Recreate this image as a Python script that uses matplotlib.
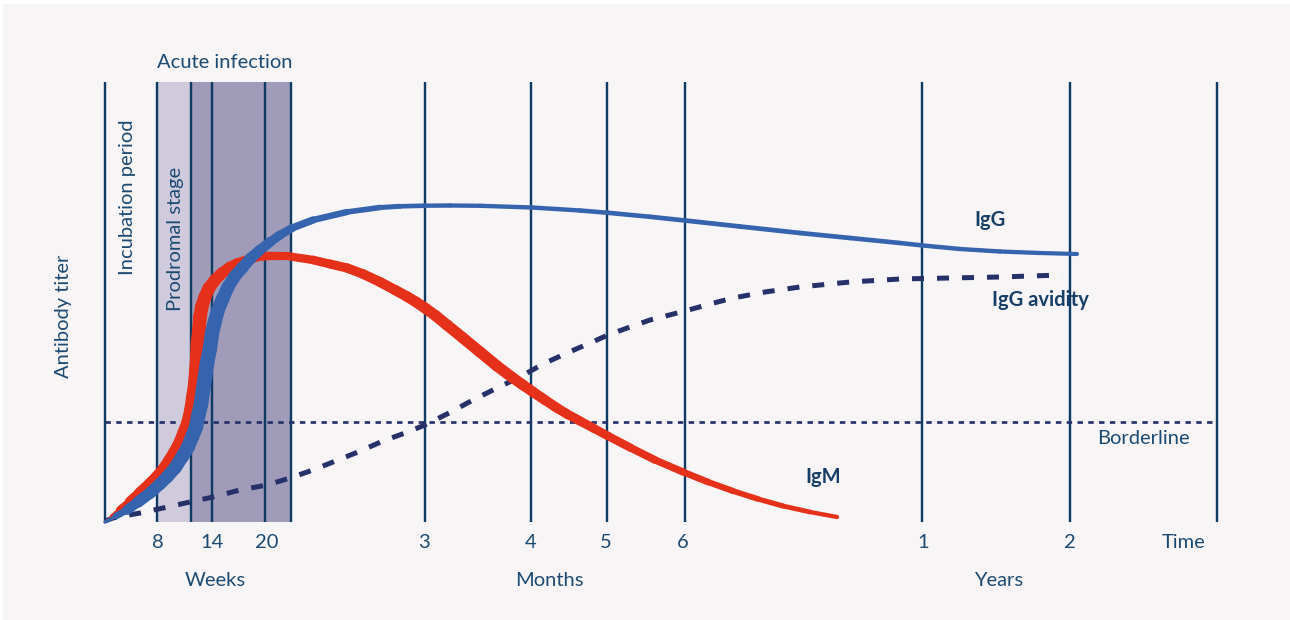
import numpy as np
import matplotlib
matplotlib.use('Agg')
import matplotlib.pyplot as plt
from matplotlib.collections import LineCollection
from matplotlib.patches import Rectangle


# schematic time axis (horizontal position) and titer axis (y grows downward)
grid_x = [105, 157, 191, 212, 265, 291, 425, 531, 607, 685, 922, 1070, 1217]
tick_x = [158, 212, 267, 424, 531, 606, 683, 923, 1070, 1184]
tick_labels = ['8', '14', '20', '3', '4', '5', '6', '1', '2', 'Time']
unit_x = [215, 549, 999]
unit_labels = ['Weeks', 'Months', 'Years']

prodromal_span = (157, 191)
acute_span = (191, 291)
borderline_y = 422

igg_x = [105, 116, 127, 138, 150, 160, 167, 175, 182, 188, 192, 196, 198, 201, 203,
         205, 207, 210, 212, 215, 218, 223, 228, 235, 243, 251, 260, 270, 280, 292,
         313, 347, 380, 400, 425, 450, 480, 532, 580, 608, 650, 685, 740, 800, 850,
         900, 923, 960, 1000, 1040, 1077]
igg_y = [522, 516, 510, 502, 493, 484, 477, 468, 457, 447, 437, 427, 417, 404, 390,
         377, 363, 348, 333, 321, 310, 298, 287, 276, 267, 258, 250, 242, 235, 228,
         220, 212, 207.5, 206.3, 205.7, 205.5, 205.8, 207.5, 210.5, 212.8, 216.8, 220.5,
         226.5, 233, 238, 243, 245.5, 249, 251.5, 253, 254]

igm_x = [105, 112, 120, 130, 140, 150, 157, 164, 170, 175, 180, 184, 188, 191, 193,
         195, 196, 197, 197.5, 199, 200, 202, 205, 209, 215, 222, 230, 238, 247, 257,
         267, 277, 287, 300, 313, 330, 347, 363, 380, 395, 407, 416, 425, 436, 447,
         463, 480, 497, 513, 523, 533, 545, 557, 567, 580, 594, 608, 630, 655, 683,
         708, 733, 758, 783, 810, 837]
igm_y = [522, 517, 510, 502, 493, 484, 477, 469, 460, 452, 443, 433, 423, 410, 397,
         383, 370, 356, 343, 330, 317, 306, 297, 288, 280, 273, 267, 263, 260, 257,
         256, 256, 256, 258, 260, 264, 268, 274, 282, 290, 296.5, 302, 308, 316, 325,
         338, 352, 366, 378, 385, 392, 400, 408, 414, 421, 428.5, 436, 447.5, 460, 472,
         482, 491, 499, 506, 512, 517]

avid_x = [105, 113, 140, 163, 190, 213, 240, 267, 290, 313, 333, 358, 383, 405, 425,
          447, 473, 497, 520, 543, 567, 590, 608, 630, 650, 685, 710, 733, 765, 800,
          850, 900, 950, 1000, 1030, 1062]
avid_y = [521, 518, 513, 508, 502, 497, 490, 485, 478, 470, 462, 452, 441, 433, 425,
          414, 400, 388, 377, 364, 353, 343, 335, 327, 320, 311, 304, 298, 292, 287,
          282, 279, 278, 277, 276, 275]

BG = '#f7f5f6'
NAVY = '#0e3b63'
TXT = '#1d4a72'
LABEL = '#173e66'
RED = '#e5301a'
BLUE = '#3563ae'
DASH = '#263069'
PX = 72 / 100  # pixel -> points


def pen_line(ax, xs, ys, color, flat, steep, taper_x, taper_v):
    # calligraphic stroke: thicker where the curve is steep, thinner along the tail
    xs = np.asarray(xs, float)
    ys = np.asarray(ys, float)
    gx = np.gradient(xs)
    gy = np.gradient(ys)
    sin = np.abs(gy) / np.hypot(gx, gy)
    # smooth the pen pressure so the edges don't wobble
    k = 7
    sin = np.convolve(np.pad(sin, k // 2, mode='edge'), np.ones(k) / k, mode='valid')
    taper = np.interp(xs, taper_x, taper_v)
    start = np.clip(0.15 + (xs - xs[0]) / 35, 0, 1)
    w = (flat + steep * sin) * taper * start
    w_seg = (w[:-1] + w[1:]) / 2
    pts = np.column_stack([xs, ys])
    segs = np.stack([pts[:-1], pts[1:]], axis=1)
    lc = LineCollection(segs, linewidths=w_seg * PX, colors=color, capstyle='round',
                        joinstyle='round', zorder=4)
    ax.add_collection(lc)


fig = plt.figure(figsize=(12.9, 6.2), dpi=100, facecolor='white')
ax = fig.add_axes([0, 0, 1, 1])
ax.set_xlim(0, 1290)
ax.set_ylim(620, 0)
ax.axis('off')

ax.add_patch(Rectangle((3, 4), 1287, 616, facecolor=BG, edgecolor='none', zorder=0))

top, bottom = 82, 522
ax.add_patch(Rectangle((prodromal_span[0], top), prodromal_span[1] - prodromal_span[0],
                       bottom - top, facecolor='#cfcbdc', edgecolor='none', zorder=1))
ax.add_patch(Rectangle((acute_span[0], top), acute_span[1] - acute_span[0],
                       bottom - top, facecolor='#9f9bb8', edgecolor='none', zorder=1))

for gx in grid_x:
    ax.plot([gx, gx], [top, bottom], color=NAVY, lw=2.4 * PX, zorder=2,
            solid_capstyle='butt')

ax.plot([grid_x[0], grid_x[-1]], [borderline_y, borderline_y], color=DASH,
        lw=2.7 * PX, linestyle=(0, (2, 2)), zorder=3)

ax.plot(avid_x, avid_y, color=DASH, lw=5 * PX, linestyle=(0, (2.4, 2.6)),
        dash_capstyle='butt', zorder=3)

pen_line(ax, igm_x, igm_y, RED, 5.6, 5.0, [105, 500, 837], [1.3, 1.3, 0.62])
pen_line(ax, igg_x, igg_y, BLUE, 4, 8.5, [105, 350, 1077], [1.3, 1.0, 0.95])

font = 'Lato'
fs = 14.5
for tx, tl in zip(tick_x, tick_labels):
    ax.text(tx, 542, tl, ha='center', va='center', color=TXT, fontsize=fs, family=font)
for ux, ul in zip(unit_x, unit_labels):
    ax.text(ux, 580, ul, ha='center', va='center', color=TXT, fontsize=fs, family=font)

ax.text(225, 63, 'Acute infection', ha='center', va='center', color=TXT, fontsize=fs,
        family=font)
ax.text(128, 197, 'Incubation period', ha='center', va='center', rotation=90,
        color=TXT, fontsize=fs, family=font)
ax.text(175, 239, 'Prodromal stage', ha='center', va='center', rotation=90,
        color=TXT, fontsize=fs, family=font)
ax.text(63, 316, 'Antibody titer', ha='center', va='center', rotation=90,
        color=TXT, fontsize=fs, family=font)
ax.text(1143, 438, 'Borderline', ha='center', va='center', color=TXT, fontsize=fs,
        family=font)

ax.text(990, 220, 'IgG', ha='center', va='center', color=LABEL, fontsize=fs,
        family=font, fontweight='bold', zorder=5)
ax.text(1040, 300, 'IgG avidity', ha='center', va='center', color=LABEL,
        fontsize=fs, family=font, fontweight='bold', zorder=5)
ax.text(823, 477, 'IgM', ha='center', va='center', color=LABEL, fontsize=fs,
        family=font, fontweight='bold', zorder=5)

fig.savefig('out.png', dpi=100, facecolor='white')
